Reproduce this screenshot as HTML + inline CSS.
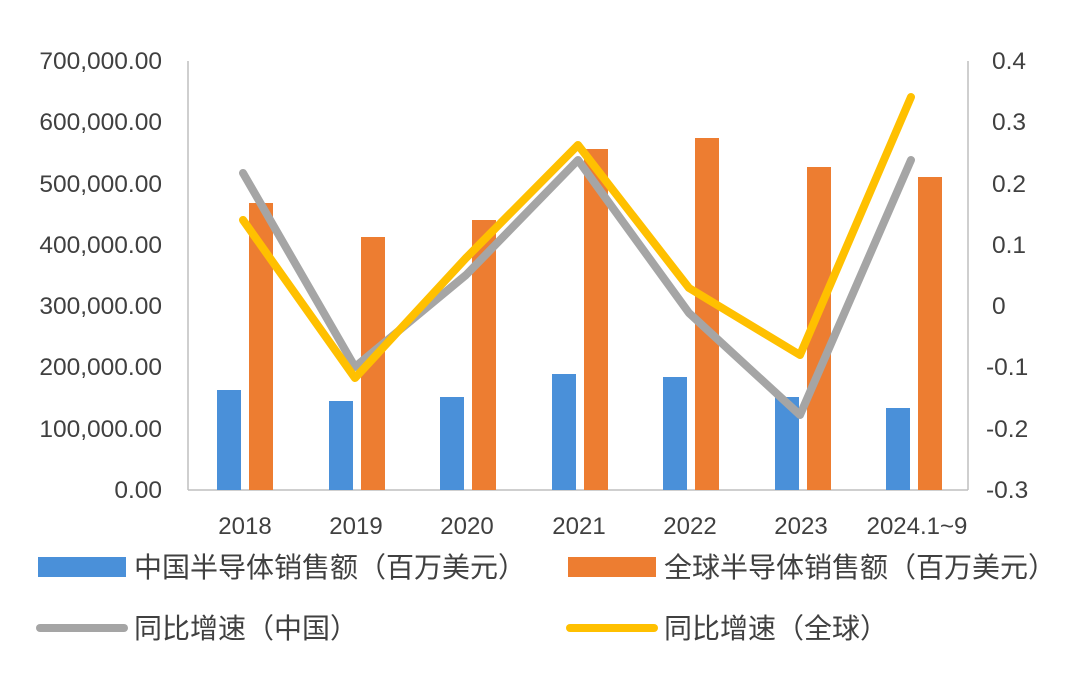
<!DOCTYPE html>
<html><head><meta charset="utf-8"><style>
html,body{margin:0;padding:0;background:#fff;}
svg{display:block;font-family:"Liberation Sans","Noto Sans CJK SC",sans-serif;}
</style></head><body>
<svg width="1080" height="673" viewBox="0 0 1080 673">
<rect width="1080" height="673" fill="#fff"/>
<g stroke="#bfbfbf" stroke-width="1.5">
<line x1="188" y1="61" x2="188" y2="490"/>
<line x1="968" y1="61" x2="968" y2="490"/>
<line x1="188" y1="490" x2="968" y2="490"/>
</g>
<g fill="#404040" font-size="24.5" text-anchor="end">
<text x="162" y="69">700,000.00</text>
<text x="162" y="130">600,000.00</text>
<text x="162" y="192">500,000.00</text>
<text x="162" y="253">400,000.00</text>
<text x="162" y="314">300,000.00</text>
<text x="162" y="375">200,000.00</text>
<text x="162" y="437">100,000.00</text>
<text x="162" y="498">0.00</text>
</g>
<g fill="#404040" font-size="24.5" text-anchor="start">
<text x="992" y="69">0.4</text>
<text x="992" y="130">0.3</text>
<text x="992" y="192">0.2</text>
<text x="992" y="253">0.1</text>
<text x="992" y="314">0</text>
<text x="986" y="375">-0.1</text>
<text x="986" y="437">-0.2</text>
<text x="986" y="498">-0.3</text>
</g>
<g fill="#404040" font-size="24" text-anchor="middle">
<text x="245" y="534">2018</text><text x="356" y="534">2019</text><text x="467" y="534">2020</text>
<text x="579" y="534">2021</text><text x="690" y="534">2022</text><text x="801" y="534">2023</text>
<text x="917" y="534">2024.1~9</text>
</g>
<g fill="#4a90d9">
<rect x="217" y="390" width="24" height="100"/><rect x="329" y="401" width="24" height="89"/>
<rect x="440" y="397" width="24" height="93"/><rect x="552" y="374" width="24" height="116"/>
<rect x="663" y="377" width="24" height="113"/><rect x="775" y="397" width="24" height="93"/>
<rect x="886" y="408" width="24" height="82"/>
</g>
<g fill="#ed7d31">
<rect x="249" y="203" width="24" height="287"/><rect x="361" y="237" width="24" height="253"/>
<rect x="472" y="220" width="24" height="270"/><rect x="584" y="149" width="24" height="341"/>
<rect x="695" y="138" width="24" height="352"/><rect x="807" y="167" width="24" height="323"/>
<rect x="918" y="177" width="24" height="313"/>
</g>
<polyline points="243,173 355,367 466,275 578,160 689,313 800,415 911,160" fill="none" stroke="#a5a5a5" stroke-width="8" stroke-linejoin="round" stroke-linecap="round"/>
<polyline points="243,220 355,378 466,258 578,145 689,288 800,355 911,97" fill="none" stroke="#ffc000" stroke-width="8" stroke-linejoin="round" stroke-linecap="round"/>
<rect x="38" y="557" width="88" height="20" fill="#4a90d9"/>
<rect x="568" y="557" width="88" height="20" fill="#ed7d31"/>
<line x1="40" y1="628" x2="124" y2="628" stroke="#a5a5a5" stroke-width="8" stroke-linecap="round"/>
<line x1="570" y1="628" x2="654" y2="628" stroke="#ffc000" stroke-width="8" stroke-linecap="round"/>
<g fill="#404040" font-size="28">
<text x="134" y="577">中国半导体销售额（百万美元）</text>
<text x="664" y="577">全球半导体销售额（百万美元）</text>
<text x="134" y="638">同比增速（中国）</text>
<text x="664" y="638">同比增速（全球）</text>
</g>
</svg>
</body></html>
